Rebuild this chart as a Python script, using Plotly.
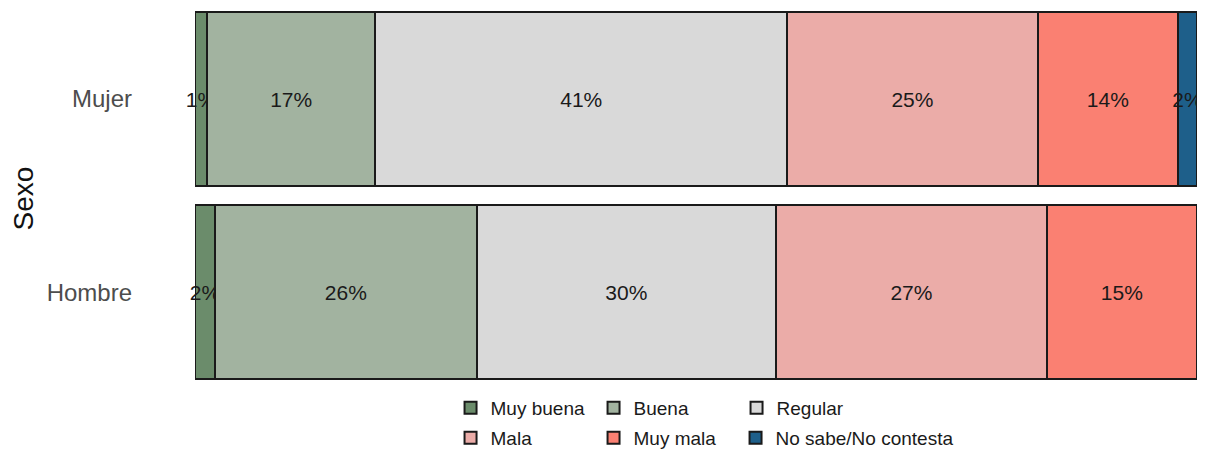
import plotly.graph_objects as go

# categories (bottom to top)
sexo = ["Hombre", "Mujer"]

# shares in percent
muy_buena = [2.0, 1.2]
buena = [26.1, 16.8]
regular = [29.9, 41.1]
mala = [27.0, 25.0]
muy_mala = [15.0, 14.0]
ns_nc = [0.0, 1.9]

series = [
    ("Muy buena", muy_buena, "#6b8c6b", "legend"),
    ("Buena", buena, "#a2b3a0", "legend"),
    ("Regular", regular, "#d9d9d9", "legend"),
    ("Mala", mala, "#ebaca8", "legend2"),
    ("Muy mala", muy_mala, "#fa8072", "legend2"),
    ("No sabe/No contesta", ns_nc, "#1e5f8a", "legend3"),
]

fig = go.Figure()
for name, vals, col, lg in series:
    txt = [f"{round(v)}%" if v > 0 else "" for v in vals]
    fig.add_trace(go.Bar(
        y=sexo, x=vals, name=name, orientation="h",
        marker=dict(color=col, line=dict(color="#1a1a1a", width=2)),
        text=txt, textposition="inside", insidetextanchor="middle",
        textangle=0, constraintext="none", cliponaxis=False,
        textfont=dict(size=21, color="#1a1a1a"),
        width=0.9, legend=lg, hoverinfo="x+y+name",
    ))

# legends placed relative to the whole figure so they don't push the margins
legend_style = dict(
    orientation="h", xanchor="left", yanchor="middle",
    xref="container", yref="container",
    font=dict(size=19, color="#1a1a1a"), entrywidth=98,
    bgcolor="rgba(0,0,0,0)", traceorder="normal",
)

# the page body keeps an 8px margin; the figure must fit inside it or
# scrollbars appear
fig.update_layout(
    barmode="stack",
    width=1189, height=442,
    margin=dict(l=187, r=0, t=0, b=61),
    paper_bgcolor="white", plot_bgcolor="white",
    font=dict(family="Liberation Sans, Arial, sans-serif"),
    legend=dict(x=0.3722, y=0.095, **legend_style),
    legend2=dict(x=0.3722, y=0.0271, **legend_style),
    legend3=dict(x=0.6119, y=0.0271, **{**legend_style, "entrywidth": 200}),
    showlegend=True,
)
fig.update_xaxes(range=[0, 100], showticklabels=False, showgrid=False,
                 zeroline=False, showline=False)
fig.update_yaxes(range=[-0.5, 1.471], showgrid=False, zeroline=False,
                 showline=False, ticklabelstandoff=62,
                 tickfont=dict(size=24, color="#4d4d4d"),
                 title=dict(text="Sexo", font=dict(size=28, color="#111111"),
                            standoff=10))

fig.write_html("out.html")
